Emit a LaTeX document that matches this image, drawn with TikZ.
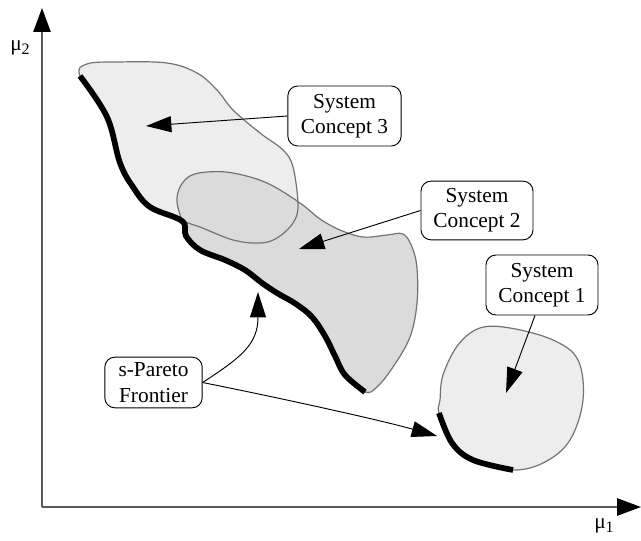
\documentclass[tikz,border=0pt]{standalone}
\usepackage{fontspec}
\setmainfont{Liberation Serif}
\usetikzlibrary{arrows.meta}
\begin{document}
\begin{tikzpicture}[x=0.75pt,y=-0.75pt,
  lbl/.style={draw=black,line width=0.7pt,rounded corners=7.5pt,fill=white,align=center,
    font=\fontsize{16}{19}\selectfont,inner sep=2pt},
  axis/.style={draw=black!65,line width=1.2pt},
  blob/.style={draw=black!55,line width=0.9pt},
  front/.style={draw=black,line width=4.3pt},
  callout/.style={draw=black,line width=0.7pt,-{Triangle[length=19pt,width=12pt]}},
  axtip/.style={-{Triangle[length=18pt,width=13pt,color=black]}}
]
\useasboundingbox (0,0) rectangle (641,541);
% axes
\coordinate (O) at (42,507);
\coordinate (ytop) at (42,8);
\coordinate (xend) at (641,507);
\draw[axis,axtip] (O) -- (ytop);
\draw[axis,axtip] (O) -- (xend);
\node (mu2) at (20,48) {\fontsize{16}{19}\selectfont μ\raisebox{-0.35ex}{\fontsize{12}{14}\selectfont 2}};
\node (mu1) at (604,526) {\fontsize{16}{19}\selectfont μ\raisebox{-0.35ex}{\fontsize{12}{14}\selectfont 1}};
% concept 3 fill
\fill[black!7] plot[smooth cycle,tension=0.6] coordinates {
 (80,76) (107,117) (120,163) (133,187) (150,207) (182,221)
 (200,227) (233,240) (260,243) (277,238) (293,223) (298,205)
 (293,167) (283,150) (260,133) (233,110) (217,90) (197,73) (167,63) (117,62) (87,64)};
% concept 2 fill
\fill[black!14] plot[smooth cycle,tension=0.6] coordinates {
 (182,221) (186,236) (200,250) (225,260) (245,270) (262,283) (277,293) (296,304) (312,317)
 (325,336) (335,356) (345,375) (365,392)
 (377,387) (393,367) (410,337) (417,303) (417,268) (412,247) (403,234) (387,235) (363,237) (340,230) (320,219)
 (300,203) (267,183) (233,173) (207,172) (190,176) (180,187) (177,202)};
% concept 1 fill
\fill[black!7] plot[smooth cycle,tension=0.6] coordinates {
 (439,413) (452,443) (473,460) (513,470) (545,462) (570,440) (583,400) (578,360) (553,340) (510,328) (480,328) (458,345) (443,375) (440,400)};
% outlines
\draw[blob] plot[smooth cycle,tension=0.6] coordinates {
 (80,76) (107,117) (120,163) (133,187) (150,207) (182,221)
 (200,227) (233,240) (260,243) (277,238) (293,223) (298,205)
 (293,167) (283,150) (260,133) (233,110) (217,90) (197,73) (167,63) (117,62) (87,64)};
\draw[blob] plot[smooth cycle,tension=0.6] coordinates {
 (182,221) (186,236) (200,250) (225,260) (245,270) (262,283) (277,293) (296,304) (312,317)
 (325,336) (335,356) (345,375) (365,392)
 (377,387) (393,367) (410,337) (417,303) (417,268) (412,247) (403,234) (387,235) (363,237) (340,230) (320,219)
 (300,203) (267,183) (233,173) (207,172) (190,176) (180,187) (177,202)};
\draw[blob] plot[smooth cycle,tension=0.6] coordinates {
 (439,413) (452,443) (473,460) (513,470) (545,462) (570,440) (583,400) (578,360) (553,340) (510,328) (480,328) (458,345) (443,375) (440,400)};
% frontiers
\draw[front] plot[smooth,tension=0.6] coordinates {
 (80,76) (107,117) (120,163) (133,187) (150,207) (182,221)
 (186,236) (200,250) (225,260) (245,270) (262,283) (277,293) (296,304) (312,317)
 (325,336) (335,356) (345,375) (365,392)};
\draw[front] plot[smooth,tension=0.6] coordinates {(439,413) (452,443) (473,460) (513,470)};
% labels
\node[lbl,minimum width=85pt,minimum height=45pt] (c3) at (344.5,116) {System\\Concept 3};
\node[lbl,minimum width=84pt,minimum height=44pt] (c2) at (477,210.5) {System\\Concept 2};
\node[lbl,minimum width=84pt,minimum height=45pt] (c1) at (542,285) {System\\Concept 1};
\node[lbl,minimum width=73pt,minimum height=38pt] (sp) at (153.5,382.5) {s-Pareto\\Frontier};
% arrow tips
\coordinate (t3) at (146,126);
\coordinate (t2) at (299,249);
\coordinate (t1) at (506,393);
\coordinate (tpa) at (258,292);
\coordinate (tpb) at (437,436);
\draw[callout] (c3.west) -- (t3);
\draw[callout] (c2.west) -- (t2);
\draw[callout] (c1.south) ++(-7,0) -- (t1);
\draw[callout] (sp.east) .. controls (240,358) and (258,345) .. (tpa);
\draw[callout] (sp.east) .. controls (280,398) and (380,420) .. (tpb);
\end{tikzpicture}
\end{document}
